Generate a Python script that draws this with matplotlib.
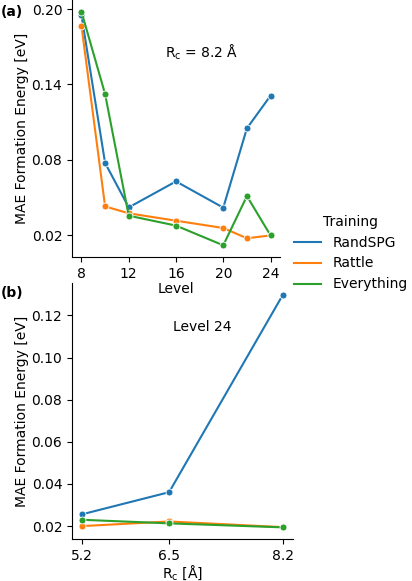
import matplotlib
matplotlib.use("Agg")
import matplotlib.pyplot as plt
from matplotlib.lines import Line2D

# Panel (a): MAE vs training level at R_c = 8.2 Å
levels = [8, 10, 12, 16, 20, 22, 24]
randspg_a = [0.195, 0.0774, 0.042, 0.0627, 0.0418, 0.105, 0.131]
rattle_a = [0.1867, 0.0428, 0.0373, 0.0314, 0.0256, 0.0174, 0.0197]
everything_a = [0.1979, 0.1323, 0.0354, 0.0275, 0.0118, 0.051, 0.0197]

# Panel (b): MAE vs cutoff radius at level 24
rc = [5.2, 6.5, 8.2]
randspg_b = [0.0256, 0.0361, 0.1299]
rattle_b = [0.0200, 0.0222, 0.0195]
everything_b = [0.0230, 0.0213, 0.0194]

series_names = ["RandSPG", "Rattle", "Everything"]
colors = ["#1f77b4", "#ff7f0e", "#2ca02c"]

W, H = 412, 581
fig = plt.figure(figsize=(W / 100, H / 100), dpi=100)
plt.rcParams['font.size'] = 10

ax_a = fig.add_axes([72 / W, 1 - 257 / H, 208 / W, 257 / H])
ax_b = fig.add_axes([72 / W, 1 - 539 / H, 221 / W, 256 / H])
ax_b.patch.set_visible(False)

mk = dict(marker='o', markersize=5, markeredgecolor='white', markeredgewidth=0.6, linewidth=1.5)

for name, c, ya in zip(series_names, colors, [randspg_a, rattle_a, everything_a]):
    ax_a.plot(levels, ya, color=c, label=name, **mk)
for name, c, yb in zip(series_names, colors, [randspg_b, rattle_b, everything_b]):
    ax_b.plot(rc, yb, color=c, label=name, **mk)

for ax in (ax_a, ax_b):
    ax.spines['top'].set_visible(False)
    ax.spines['right'].set_visible(False)
    ax.set_ylabel("MAE Formation Energy [eV]", labelpad=1.5)

ax_a.set_xticks([8, 12, 16, 20, 24])
ax_a.set_yticks([0.02, 0.08, 0.14, 0.20])
ax_a.set_yticklabels(["0.02", "0.08", "0.14", "0.20"])
ax_a.set_xlabel("Level", labelpad=1)
ax_a.text(202 / W, 1 - 52 / H, r"R$_\mathrm{c}$ = 8.2 Å", transform=fig.transFigure,
          ha='center', va='center')

ax_b.set_xticks(rc)
ax_b.set_xticklabels(["5.2", "6.5", "8.2"])
ax_b.set_yticks([0.02, 0.04, 0.06, 0.08, 0.10, 0.12])
ax_b.set_yticklabels(["0.02", "0.04", "0.06", "0.08", "0.10", "0.12"])
ax_b.set_xlabel(r"R$_\mathrm{c}$ [Å]", labelpad=0)
ax_b.text(202 / W, 1 - 327 / H, "Level 24", transform=fig.transFigure,
          ha='center', va='center')

fig.text(1 / W, 1 - 12 / H, "(a)", fontweight='bold', ha='left', va='center')
fig.text(1 / W, 1 - 293 / H, "(b)", fontweight='bold', ha='left', va='center')

handles = [Line2D([], [], color=c, linewidth=1.5) for c in colors]
fig.legend(handles=handles, labels=series_names, title="Training", frameon=False,
           loc='center left', bbox_to_anchor=(281 / W, 1 - 253 / H))

fig.savefig("out.png", dpi=100)
